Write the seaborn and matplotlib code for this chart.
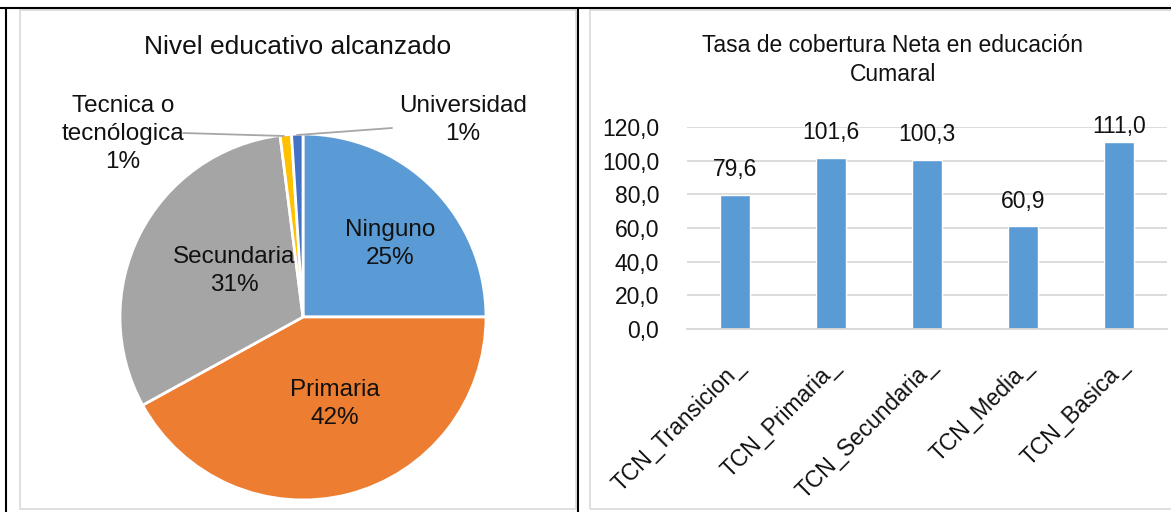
import matplotlib
matplotlib.use("Agg")
import matplotlib.pyplot as plt
import matplotlib.transforms as mtransforms
import seaborn as sns
import pandas as pd
from matplotlib.lines import Line2D
from matplotlib.patches import Rectangle

# ---------------- data ----------------
pie_labels = ["Ninguno", "Primaria", "Secundaria", "Tecnica o\ntecnólogica", "Universidad"]
pie_values = [25, 42, 31, 1, 1]
pie_colors = ["#5B9BD5", "#ED7D31", "#A5A5A5", "#FFC000", "#4472C4"]

bar_categories = ["TCN_Transicion_", "TCN_Primaria_", "TCN_Secundaria_", "TCN_Media_", "TCN_Basica_"]
bar_values = [79.6, 101.6, 100.3, 60.9, 111.0]
y_ticks = [0, 20, 40, 60, 80, 100, 120]

sns.set_theme(style="white")
plt.rcParams['font.family'] = ['Liberation Sans', 'DejaVu Sans']

W, H = 1171, 512
fig = plt.figure(figsize=(W / 100, H / 100), dpi=100)
fig.patch.set_facecolor("white")

def fx(px):
    return px / W

def fy(py):
    return 1 - py / H

FS_TITLE_L = 19
FS_PIE = 17.5
FS_BAR = 16.5
TXT = "#111111"

# ---------------- frames ----------------
fig.add_artist(Rectangle((fx(20), fy(509)), fx(576 - 20), (509 - 10) / H,
                         transform=fig.transFigure, fill=False, edgecolor="#D9D9D9", lw=1.2))
fig.add_artist(Rectangle((fx(590), fy(509)), fx(1200 - 590), (509 - 10) / H,
                         transform=fig.transFigure, fill=False, edgecolor="#D9D9D9", lw=1.2))
fig.add_artist(Line2D([0, 1], [fy(8), fy(8)], transform=fig.transFigure, color="black", lw=1.5))
fig.add_artist(Line2D([fx(6), fx(6)], [0, fy(8)], transform=fig.transFigure, color="black", lw=1.5))
fig.add_artist(Line2D([fx(578), fx(578)], [0, fy(8)], transform=fig.transFigure, color="black", lw=1.5))

# ---------------- pie ----------------
cx, cy, r = 303, 317, 183
axp = fig.add_axes([fx(cx - r), fy(cy + r), 2 * r / W, 2 * r / H])
axp.pie(pie_values, colors=pie_colors, startangle=90, counterclock=False,
        wedgeprops=dict(edgecolor="white", linewidth=2))
axp.set_xlim(-1, 1)
axp.set_ylim(-1, 1)
axp.set_aspect("auto")
axp.axis("off")

def d(px, py):
    return ((px - cx) / r, (cy - py) / r)

inside = [("Ninguno\n25%", 390, 244), ("Primaria\n42%", 335, 404), ("Secundaria\n31%", 234, 271)]
for txt, px, py in inside:
    axp.text(*d(px, py), txt, ha="center", va="center", fontsize=FS_PIE, color=TXT,
             linespacing=1.35)
fig.text(fx(123), fy(134), "Tecnica o\ntecnólogica\n1%", ha="center", va="center", fontsize=FS_PIE,
         color=TXT, linespacing=1.35)
fig.text(fx(463), fy(120), "Universidad\n1%", ha="center", va="center", fontsize=FS_PIE,
         color=TXT, linespacing=1.35)
fig.add_artist(Line2D([fx(183), fx(284)], [fy(133), fy(136)], transform=fig.transFigure,
                      color="#A6A6A6", lw=1.3))
fig.add_artist(Line2D([fx(297), fx(392)], [fy(135), fy(128)], transform=fig.transFigure,
                      color="#A6A6A6", lw=1.3))
fig.text(fx(298), fy(47), "Nivel educativo alcanzado", ha="center", va="center",
         fontsize=FS_TITLE_L, color=TXT)

# ---------------- bars ----------------
axb = fig.add_axes([fx(687), fy(329), fx(1167 - 687), (329 - 127) / H])
df = pd.DataFrame({"cat": bar_categories, "val": bar_values})
sns.barplot(data=df, x="cat", y="val", color="#5B9BD5", width=0.31, ax=axb, saturation=1)
axb.set_ylim(0, 120)
axb.set_xlim(-0.5, len(bar_categories) - 0.5)
axb.set_yticks(y_ticks)
axb.set_yticklabels([f"{v:.1f}".replace(".", ",") for v in y_ticks], fontsize=FS_BAR, color=TXT)
axb.yaxis.grid(True, color="#D9D9D9", lw=1.3)
axb.set_axisbelow(True)
for s in ["top", "right", "left"]:
    axb.spines[s].set_visible(False)
axb.spines["bottom"].set_color("#D9D9D9")
axb.spines["bottom"].set_linewidth(1.3)
axb.tick_params(axis="y", length=0, pad=20)
axb.tick_params(axis="x", length=0, pad=24)
axb.set_xlabel("")
axb.set_ylabel("")
axb.set_xticks(range(len(bar_categories)))
axb.set_xticklabels(bar_categories, rotation=45, ha="right", va="center",
                    rotation_mode="anchor", fontsize=FS_BAR, color=TXT)
shift = mtransforms.ScaledTranslation(6 / 100, 0, fig.dpi_scale_trans)
for lab in axb.get_xticklabels():
    lab.set_transform(lab.get_transform() + shift)
for i, v in enumerate(bar_values):
    off = 10 if v < 105 else 3
    axb.annotate(f"{v:.1f}".replace(".", ","), (i, v), xytext=(0, off), textcoords="offset points",
                 ha="center", va="bottom", fontsize=FS_BAR, color=TXT)
fig.text(fx(893), fy(60), "Tasa de cobertura Neta en educación\nCumaral", ha="center",
         va="center", fontsize=FS_BAR, color=TXT, linespacing=1.35)

fig.savefig("out.png", dpi=100, facecolor="white")
